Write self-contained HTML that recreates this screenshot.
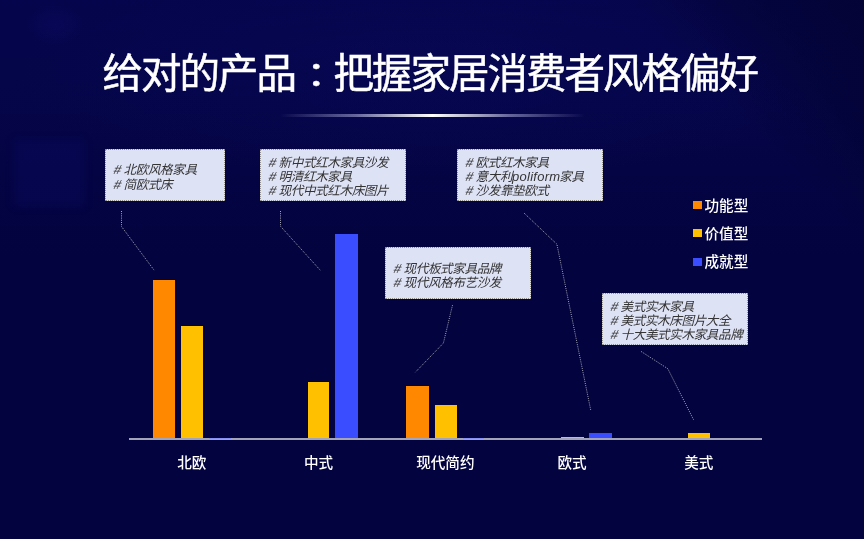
<!DOCTYPE html>
<html lang="zh-CN">
<head>
<meta charset="utf-8">
<style>
*{margin:0;padding:0;box-sizing:border-box;}
html,body{width:864px;height:539px;overflow:hidden;}
body{position:relative;background:#030340;font-family:"Liberation Sans","Noto Sans CJK SC",sans-serif;}
#bg{position:absolute;left:0;top:0;width:864px;height:539px;
 background:
  radial-gradient(ellipse 30px 22px at 55px 25px,rgba(20,20,150,0.15),rgba(20,20,140,0) 100%),
  linear-gradient(225deg,rgba(2,2,36,0.55) 0%,rgba(2,2,36,0.35) 9%,rgba(2,2,36,0) 17%),
  radial-gradient(ellipse 420px 110px at 430px 70px,rgba(14,14,110,0.22),rgba(14,14,110,0) 100%),
  linear-gradient(180deg,#05054d 0%,#05054a 15%,#040444 32%,#03033f 48%,#03033f 100%);}
.title{position:absolute;left:102.5px;top:43px;white-space:nowrap;color:#fff;font-size:40.5px;line-height:56px;letter-spacing:-2px;font-weight:400;-webkit-text-stroke:0.5px #fff;
 font-family:"Liberation Sans","Noto Sans CJK SC",sans-serif;}
.title .c{font-family:"Noto Sans CJK JP",sans-serif;display:inline-block;transform:translate(1px,2.5px) scaleY(0.82);}
.deco{position:absolute;left:280px;top:114px;width:305px;height:3px;
 background:linear-gradient(90deg,rgba(255,255,255,0) 0%,rgba(200,200,240,0.5) 25%,#fff 50%,rgba(200,200,240,0.5) 75%,rgba(255,255,255,0) 100%);}
.bar{position:absolute;}
.o{background:#ff8800;}
.y{background:#ffc000;}
.b{background:#3a4eff;}
.axis{position:absolute;left:128.5px;top:438.4px;width:633.75px;height:1.7px;background:#a4a4b8;}
.lab{position:absolute;top:451px;width:126.75px;text-align:center;color:#fff;font-size:14.6px;font-weight:500;line-height:24px;
 font-family:"Liberation Sans","Noto Sans CJK SC",sans-serif;}
.box .lat{font-size:13px;letter-spacing:0.25px;margin-right:-1px;}
.box i{font-family:"Liberation Sans",sans-serif;font-style:normal;display:inline-block;transform:skewX(-16deg);font-size:13px;line-height:10px;width:6.4px;}
.box{position:absolute;background:#dee2f5;border:1px dotted #8f8e8a;color:#343434;font-size:12.6px;letter-spacing:-0.4px;font-style:italic;line-height:14.35px;font-weight:400;
 font-family:"Liberation Sans","Noto Sans CJK SC",sans-serif;white-space:nowrap;padding-left:8px;}
.leg{position:absolute;left:693px;width:9px;height:8px;}
.legt{position:absolute;left:704.5px;color:#fff;font-size:14.6px;font-weight:500;line-height:20px;
 font-family:"Liberation Sans","Noto Sans CJK SC",sans-serif;}
svg{position:absolute;left:0;top:0;}
</style>
</head>
<body>
<div id="bg"></div>
<div style="position:absolute;left:14px;top:140px;width:70px;height:66px;background:rgba(20,20,150,0.14);filter:blur(5px);"></div>
<div class="title">给对的产品<span class="c" lang="ja">：</span>把握家居消费者风格偏好</div>
<div class="deco"></div>

<!-- boxes -->
<div class="box" style="left:105px;top:149px;width:120px;height:52px;padding-top:13px;line-height:14.9px;"><i>#</i> 北欧风格家具<br><i>#</i> 简欧式床</div>
<div class="box" style="left:260px;top:149px;width:146px;height:52px;padding-top:5.8px;"><i>#</i> 新中式红木家具沙发<br><i>#</i> 明清红木家具<br><i>#</i> 现代中式红木床图片</div>
<div class="box" style="left:457px;top:149px;width:146px;height:52px;padding-top:5.8px;"><i>#</i> 欧式红木家具<br><i>#</i> 意大利<span class="lat">poliform</span>家具<br><i>#</i> 沙发靠垫欧式</div>
<div class="box" style="left:385px;top:247px;width:146px;height:52px;padding-top:14px;line-height:14.3px;"><i>#</i> 现代板式家具品牌<br><i>#</i> 现代风格布艺沙发</div>
<div class="box" style="left:602px;top:293px;width:146px;height:52px;padding-top:5.8px;"><i>#</i> 美式实木家具<br><i>#</i> 美式实木床图片大全<br><i>#</i> 十大美式实木家具品牌</div>

<!-- leader lines -->
<svg width="864" height="539" viewBox="0 0 864 539">
 <g fill="none" stroke="#a8a8b8" stroke-width="1" stroke-dasharray="1 1.2">
  <polyline points="121.5,211 121.5,226.5 154.4,270.6"/>
  <polyline points="280.5,211 280.5,226.3 320.6,270.6"/>
  <polyline points="524,213 556.9,244.2 590.7,410"/>
  <polyline points="452.5,305.2 443.4,343.1 415.3,372.3"/>
  <polyline points="641,351.4 667.8,368.7 693.5,419.6"/>
 </g>
</svg>

<!-- bars -->
<div class="bar o" style="left:152.6px;top:279.5px;width:22.8px;height:159px;"></div>
<div class="bar y" style="left:181.3px;top:326.2px;width:21.8px;height:112.3px;"></div>

<div class="bar y" style="left:307.8px;top:381.6px;width:21.6px;height:56.9px;"></div>
<div class="bar b" style="left:335px;top:234px;width:23px;height:204.5px;"></div>

<div class="bar o" style="left:406px;top:386.2px;width:23px;height:52.3px;"></div>
<div class="bar y" style="left:435px;top:405.4px;width:21.8px;height:33.1px;"></div>

<div class="bar y" style="left:561.2px;top:436.6px;width:22.4px;height:1.9px;"></div>
<div class="bar b" style="left:588.8px;top:432.9px;width:22.8px;height:5.6px;"></div>

<div class="bar y" style="left:688.1px;top:432.9px;width:22px;height:5.6px;"></div>

<div class="axis"></div>
<div class="bar" style="left:208.8px;top:437.9px;width:22.2px;height:1px;background:#8890f2;"></div>
<div class="bar" style="left:462.5px;top:437.9px;width:21.6px;height:1px;background:#8890f2;"></div>

<div class="lab" style="left:128.5px;">北欧</div>
<div class="lab" style="left:255.25px;">中式</div>
<div class="lab" style="left:382px;">现代简约</div>
<div class="lab" style="left:508.75px;">欧式</div>
<div class="lab" style="left:635.5px;">美式</div>

<!-- legend -->
<div class="leg o" style="top:200.6px;"></div>
<div class="legt" style="top:195.6px;">功能型</div>
<div class="leg y" style="top:229px;"></div>
<div class="legt" style="top:223.6px;">价值型</div>
<div class="leg b" style="top:258.2px;"></div>
<div class="legt" style="top:252.4px;">成就型</div>
</body>
</html>
